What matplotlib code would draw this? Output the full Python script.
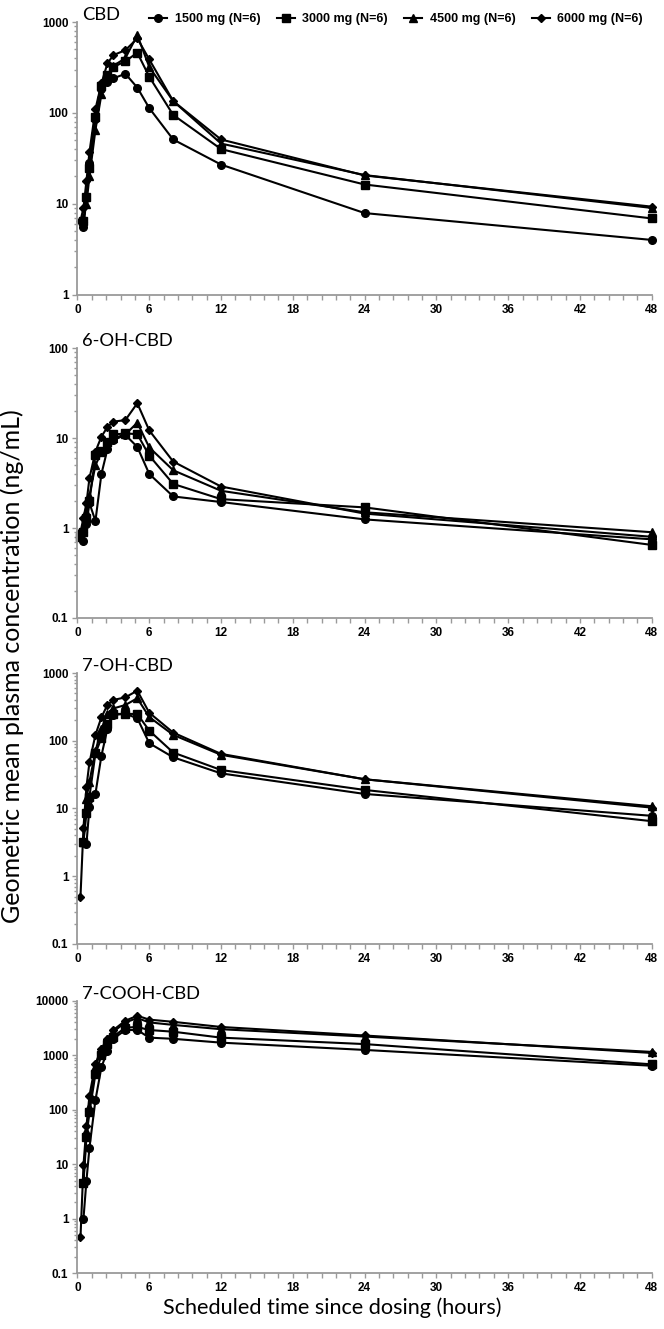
import numpy as np
import matplotlib.pyplot as plt
from matplotlib.ticker import FixedLocator, LogLocator, FuncFormatter, NullFormatter

nan = np.nan

# scheduled sampling times (hours)
hours = [0.25, 0.5, 0.75, 1, 1.5, 2, 2.5, 3, 4, 5, 6, 8, 12, 24, 48]
doses = ['1500 mg (N=6)', '3000 mg (N=6)', '4500 mg (N=6)', '6000 mg (N=6)']
markers = ['o', 's', '^', 'D']
marker_sizes = [5.5, 5.5, 6, 4]

# geometric mean concentrations (ng/mL)
cbd_1500 = [nan, 5.5, 11.5, 28, 85, 185, 220, 240, 270, 190, 113, 51, 27, 7.9, 4.0]
cbd_3000 = [nan, 6.5, 12, 25, 90, 200, 260, 320, 370, 460, 250, 95, 40, 16.3, 6.9]
cbd_4500 = [nan, 7, 10, 20, 65, 160, 250, 330, 400, 720, 320, 135, 46, 20.7, 9.0]
cbd_6000 = [6.5, 9, 18, 37, 110, 211, 350, 433, 490, 660, 388, 135, 51, 20.5, 9.3]

oh6_1500 = [nan, 0.72, 1.1, 1.9, 1.2, 4.0, 7.5, 9.5, 10.9, 8.0, 4.0, 2.25, 1.95, 1.25, 0.75]
oh6_3000 = [0.8, 0.9, 1.3, 2.0, 6.5, 7.2, 9.0, 11, 11.3, 11.1, 6.4, 3.1, 2.1, 1.7, 0.65]
oh6_4500 = [0.85, 1.0, 1.5, 2.3, 5.0, 7.0, 9.0, 10, 11, 14.9, 7.9, 4.4, 2.6, 1.5, 0.9]
oh6_6000 = [0.9, 1.3, 1.9, 3.6, 7.1, 10.4, 13.3, 15.3, 15.9, 24.5, 12.2, 5.5, 2.9, 1.45, 0.8]

oh7_1500 = [nan, nan, 3.0, 10.5, 16.5, 60, 150, 240, 250, 215, 92, 57, 33, 16.4, 7.8]
oh7_3000 = [nan, 3.2, 8.5, 15, 65, 110, 176, 248, 250, 248, 141, 67, 37, 18.8, 6.5]
oh7_4500 = [nan, 3.2, 14, 25, 70, 150, 250, 300, 337, 424, 224, 122, 62, 27, 10.8]
oh7_6000 = [0.5, 5.2, 21, 48, 122, 222, 337, 400, 437, 549, 259, 132, 64, 27, 10.3]

cooh_1500 = [nan, 1.0, 5, 20, 150, 600, 1200, 2000, 2900, 2900, 2100, 2000, 1700, 1250, 640]
cooh_3000 = [nan, 4.5, 32, 90, 450, 1000, 1600, 2200, 3200, 3300, 2900, 2700, 2100, 1600, 680]
cooh_4500 = [nan, 5, 40, 110, 600, 1300, 2000, 2700, 4000, 4800, 4000, 3600, 3000, 2200, 1150]
cooh_6000 = [0.45, 9.5, 50, 180, 700, 1300, 2000, 2900, 4300, 5300, 4500, 4100, 3300, 2300, 1100]

panels = [
    ('CBD', [cbd_1500, cbd_3000, cbd_4500, cbd_6000], (1, 1000)),
    ('6-OH-CBD', [oh6_1500, oh6_3000, oh6_4500, oh6_6000], (0.1, 100)),
    ('7-OH-CBD', [oh7_1500, oh7_3000, oh7_4500, oh7_6000], (0.1, 1000)),
    ('7-COOH-CBD', [cooh_1500, cooh_3000, cooh_4500, cooh_6000], (0.1, 10000)),
]

label_font = 'Lato'
tick_font = 'Liberation Sans'
grey = '#9a9a9a'

fig = plt.figure(figsize=(6.64, 13.29), dpi=100)
bottoms = [0.7783, 0.5350, 0.2897, 0.0421]
heights = [0.2051, 0.2029, 0.2039, 0.2049]

for i, (name, series, ylim) in enumerate(panels):
    ax = fig.add_axes([0.1167, bottoms[i], 0.8648, heights[i]])
    for vals, dose, m, ms in zip(series, doses, markers, marker_sizes):
        ax.plot(hours, vals, color='black', lw=1.5, marker=m, ms=ms,
                label=dose, clip_on=False)
    ax.set_yscale('log')
    ax.set_ylim(*ylim)
    ax.set_xlim(0, 48)
    ax.xaxis.set_major_locator(FixedLocator(np.arange(0, 49, 6)))
    ax.xaxis.set_minor_locator(FixedLocator(np.arange(0, 48.01, 1.2)))
    ax.yaxis.set_major_locator(LogLocator(base=10))
    ax.yaxis.set_minor_locator(LogLocator(base=10, subs=np.arange(2, 10)))
    ax.yaxis.set_major_formatter(FuncFormatter(lambda v, p: '{:g}'.format(v)))
    ax.yaxis.set_minor_formatter(NullFormatter())
    for s in ['top', 'right']:
        ax.spines[s].set_visible(False)
    for s in ['left', 'bottom']:
        ax.spines[s].set_color(grey)
        ax.spines[s].set_linewidth(1.3)
    ax.tick_params(which='both', direction='out', color=grey, width=1, length=3.5)
    ax.tick_params(axis='y', which='minor', length=2.5)
    ax.tick_params(labelsize=8.5, pad=3)
    for lab in ax.get_xticklabels() + ax.get_yticklabels():
        lab.set_fontfamily(tick_font)
        lab.set_fontweight('bold')
    ax.annotate(name, xy=(0, 1), xycoords='axes fraction', xytext=(5, 2),
                textcoords='offset pixels', ha='left', va='baseline',
                fontsize=13.2, family=label_font)
    if i == 0:
        ax.legend(loc='center right', bbox_to_anchor=(0.985, 1.011), ncol=4,
                  frameon=False, handlelength=1.45, handletextpad=0.6,
                  columnspacing=1.3, borderpad=0, borderaxespad=0,
                  prop={'family': tick_font, 'weight': 'bold', 'size': 9})

fig.text(0.018, 0.499, 'Geometric mean plasma concentration (ng/mL)', rotation=90,
         ha='center', va='center', fontsize=18, family=label_font)
fig.text(0.5, 0.0158, 'Scheduled time since dosing (hours)', ha='center',
         va='center', fontsize=15.6, family=label_font)

fig.savefig('out.png', dpi=100)
